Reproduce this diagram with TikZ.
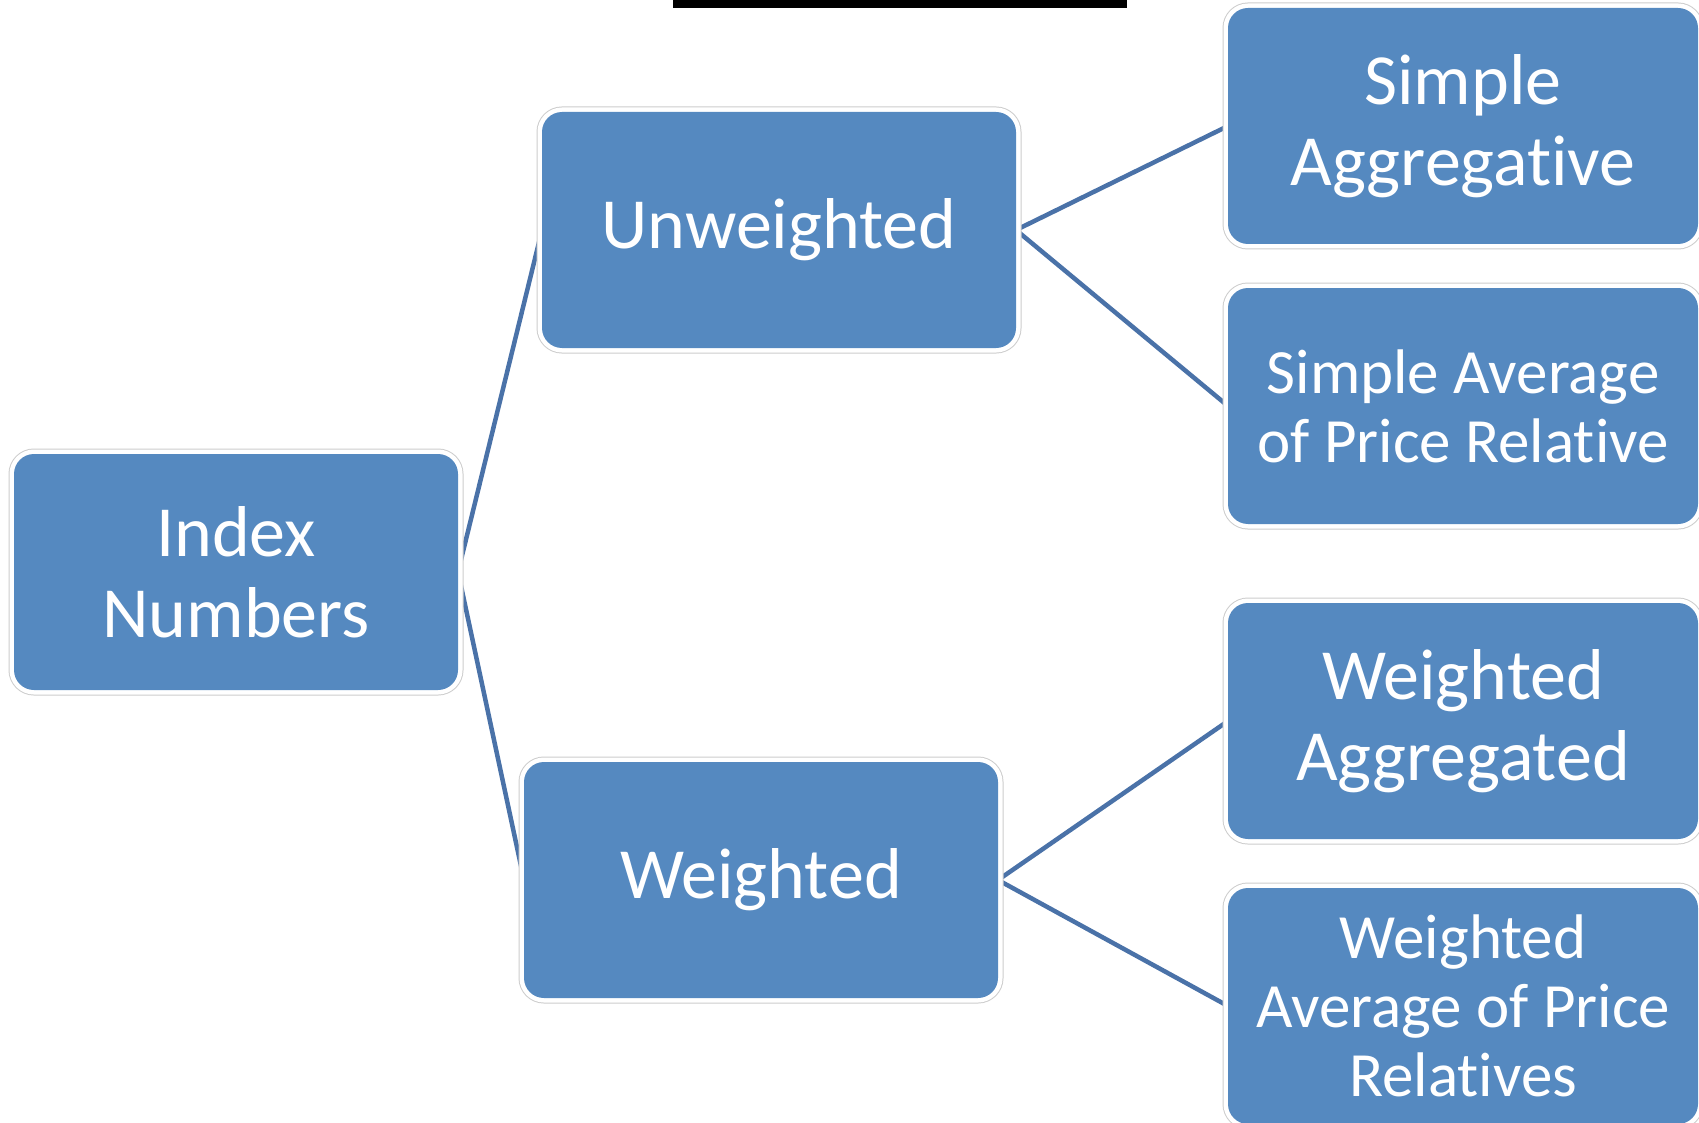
\documentclass[tikz,border=0pt]{standalone}
\usepackage{fontspec}
\setmainfont{Carlito}[Ligatures={NoCommon}]
\usetikzlibrary{backgrounds}
\definecolor{boxblue}{RGB}{85,137,192}
\definecolor{linkblue}{RGB}{74,114,168}
\definecolor{ringgray}{RGB}{205,205,205}
\begin{document}
\begin{tikzpicture}[x=1pt,y=-1pt,
  box/.style={rectangle, rounded corners=20pt, fill=boxblue, text=white,
    align=center, inner sep=0pt, outer sep=0pt,
    minimum width=474pt, minimum height=236pt,
    preaction={draw=ringgray, line width=11pt},
    preaction={draw=white, line width=9pt}},
  rbox/.style={box, minimum width=470pt, minimum height=236pt},
  big/.style={font=\fontsize{72}{81}\selectfont},
  small/.style={font=\fontsize{63}{69}\selectfont},
  link/.style={draw=linkblue, line width=4.5pt}]
\useasboundingbox (0,0) rectangle (1699,1123);
\fill[black] (673,0) rectangle (1127,8);
\node[box, big, minimum width=444pt] (idx) at (236,572) {Index\\Numbers};
\node[box, big] (unw) at (779,230) {Unweighted};
\node[box, big] (wtd) at (761,880) {Weighted};
\node[rbox, big] (sag) at (1463,126) {Simple\\Aggregative};
\node[rbox, small] (sav) at (1463,406) {Simple Average\\of Price Relative};
\node[rbox, big] (wag) at (1463,721) {Weighted\\Aggregated};
\node[rbox, small] (wav) at (1463,1006) {Weighted\\Average of Price\\Relatives};
\begin{pgfonlayer}{background}
\draw[link] (idx.east) -- (unw.west);
\draw[link] (idx.east) -- (wtd.west);
\draw[link] (unw.east) -- (sag.west);
\draw[link] (unw.east) -- (sav.west);
\draw[link] (wtd.east) -- (wag.west);
\draw[link] (wtd.east) -- (wav.west);
\end{pgfonlayer}
\end{tikzpicture}
\end{document}
